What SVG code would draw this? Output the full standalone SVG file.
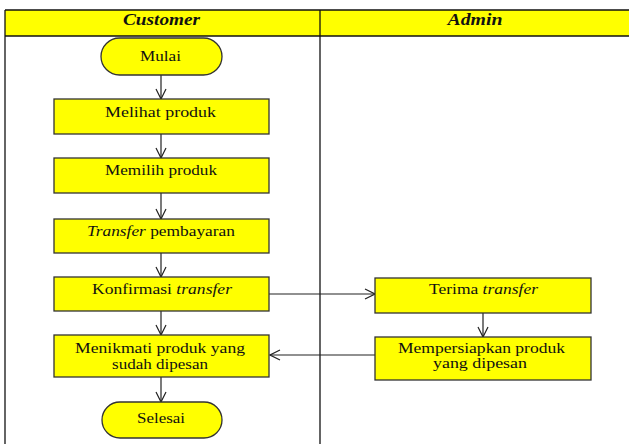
<svg xmlns="http://www.w3.org/2000/svg" width="629" height="444" viewBox="0 0 629 444">
<defs>
<style>
.box{fill:#ffff00;stroke:#333;stroke-width:1.3}
.t{font-family:"Liberation Serif",serif;font-size:15px;fill:#111;text-anchor:middle}
.h{font-family:"Liberation Serif",serif;font-size:16px;font-weight:bold;font-style:italic;fill:#111;text-anchor:middle}
.ln{stroke:#111;stroke-width:1.3;fill:none}
.c{stroke:#222;stroke-width:1.2;fill:none;marker-end:url(#a)}
</style>
<marker id="a" viewBox="0 0 12 12" refX="11" refY="6" markerWidth="12" markerHeight="12" markerUnits="userSpaceOnUse" orient="auto">
<path d="M1,1 L11,6 L1,11" fill="none" stroke="#222" stroke-width="1.2"/>
</marker>
</defs>
<rect width="629" height="444" fill="#fff"/>
<g id="lanes">
<rect x="5" y="10" width="630" height="26" fill="#ffff00"/>
<line class="ln" x1="5" y1="10" x2="629" y2="10"/>
<line class="ln" x1="5" y1="36" x2="629" y2="36"/>
<line class="ln" x1="5" y1="10" x2="5" y2="444"/>
<line class="ln" x1="320" y1="10" x2="320" y2="444"/>
<text class="h" x="161.5" y="25" textLength="77" lengthAdjust="spacingAndGlyphs">Customer</text>
<text class="h" x="475" y="25" textLength="55" lengthAdjust="spacingAndGlyphs">Admin</text>
</g>
<g id="connectors">
<line class="c" x1="161" y1="75" x2="161" y2="99"/>
<line class="c" x1="161" y1="134" x2="161" y2="158"/>
<line class="c" x1="161" y1="193" x2="161" y2="219"/>
<line class="c" x1="161" y1="253" x2="161" y2="277"/>
<line class="c" x1="161" y1="311" x2="161" y2="335"/>
<line class="c" x1="161" y1="377" x2="161" y2="402"/>
<line class="c" x1="269" y1="294" x2="375" y2="294"/>
<line class="c" x1="483" y1="313" x2="483" y2="337"/>
<line class="c" x1="375" y1="355" x2="270" y2="355"/>
</g>
<g id="mulai"><rect class="box" x="101" y="38" width="121" height="37" rx="18.5"/><text class="t" x="160.5" y="61" textLength="41" lengthAdjust="spacingAndGlyphs">Mulai</text></g>
<g id="melihat"><rect class="box" x="54" y="99" width="215" height="35"/><text class="t" x="160.5" y="117" textLength="111" lengthAdjust="spacingAndGlyphs">Melihat produk</text></g>
<g id="memilih"><rect class="box" x="54" y="158" width="215" height="35"/><text class="t" x="161" y="175" textLength="112" lengthAdjust="spacingAndGlyphs">Memilih produk</text></g>
<g id="transfer"><rect class="box" x="54" y="219" width="215" height="34"/><text class="t" x="161" y="236" textLength="148" lengthAdjust="spacingAndGlyphs"><tspan font-style="italic">Transfer</tspan> pembayaran</text></g>
<g id="konfirmasi"><rect class="box" x="54" y="277" width="215" height="34"/><text class="t" x="162" y="294" textLength="140" lengthAdjust="spacingAndGlyphs">Konfirmasi <tspan font-style="italic">transfer</tspan></text></g>
<g id="menikmati"><rect class="box" x="54" y="335" width="215" height="42"/><text class="t" x="160" y="353" textLength="170" lengthAdjust="spacingAndGlyphs">Menikmati produk yang</text><text class="t" x="160" y="369" textLength="96" lengthAdjust="spacingAndGlyphs">sudah dipesan</text></g>
<g id="selesai"><rect class="box" x="102" y="402" width="120" height="36" rx="18"/><text class="t" x="161" y="423" textLength="48" lengthAdjust="spacingAndGlyphs">Selesai</text></g>
<g id="terima"><rect class="box" x="375" y="278" width="216" height="35"/><text class="t" x="483.5" y="294" textLength="109" lengthAdjust="spacingAndGlyphs">Terima <tspan font-style="italic">transfer</tspan></text></g>
<g id="mempersiapkan"><rect class="box" x="375" y="337" width="216" height="43"/><text class="t" x="481.5" y="353" textLength="167" lengthAdjust="spacingAndGlyphs">Mempersiapkan produk</text><text class="t" x="480" y="368" textLength="94" lengthAdjust="spacingAndGlyphs">yang dipesan</text></g>
</svg>
